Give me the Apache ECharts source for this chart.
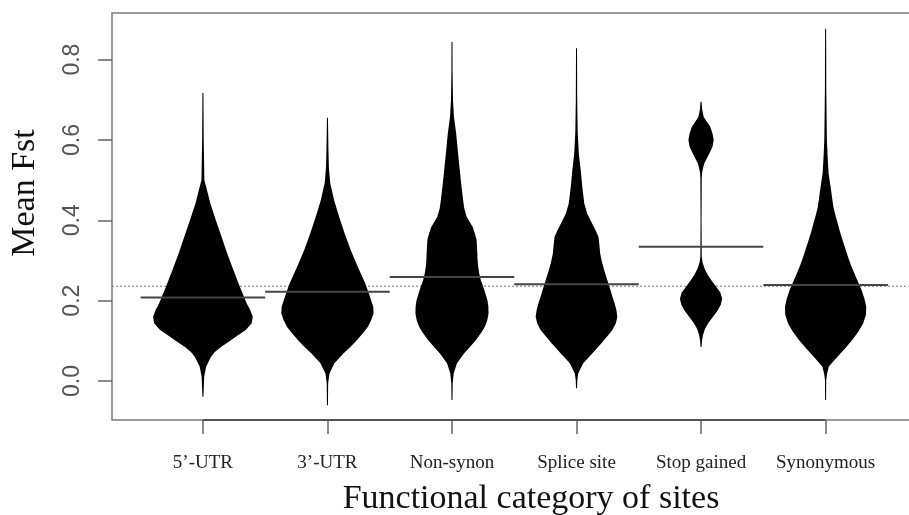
<!DOCTYPE html>
<html><head><meta charset="utf-8">
<script src="https://cdn.jsdelivr.net/npm/echarts@6/dist/echarts.min.js"></script>
<style>html,body{margin:0;padding:0;background:#fff}#c{width:909px;height:515px}</style>
</head><body><div id="c"></div>
<script>
// ---- data ----
const categories = ['5’-UTR', '3’-UTR', 'Non-synon', 'Splice site', 'Stop gained', 'Synonymous'];
const categoryPositions = [1, 2, 3, 4, 5, 6];
const groupMeans = [0.208, 0.222, 0.259, 0.241, 0.334, 0.239];
const overallMean = 0.236;
const yTicks = [0, 0.2, 0.4, 0.6, 0.8];

// density profiles (Fst value, relative density) for each bean
const utr5Fst = [-0.039, 0.011, 0.036, 0.06, 0.072, 0.085, 0.098, 0.110, 0.127, 0.144, 0.16, 0.177, 0.193, 0.235, 0.276, 0.318, 0.359, 0.40, 0.442, 0.483, 0.50, 0.60, 0.717];
const utr5Dens = [0.01, 0.026, 0.066, 0.16, 0.24, 0.36, 0.52, 0.66, 0.86, 0.98, 1.0, 0.95, 0.88, 0.74, 0.614, 0.486, 0.374, 0.26, 0.15, 0.066, 0.03, 0.016, 0.01];

const utr3Fst = [-0.06, -0.006, 0.019, 0.044, 0.069, 0.085, 0.102, 0.119, 0.135, 0.152, 0.168, 0.185, 0.20, 0.222, 0.243, 0.285, 0.326, 0.367, 0.409, 0.45, 0.492, 0.53, 0.575, 0.655];
const utr3Dens = [0.01, 0.014, 0.04, 0.14, 0.326, 0.46, 0.594, 0.71, 0.814, 0.88, 0.926, 0.92, 0.88, 0.82, 0.76, 0.606, 0.466, 0.346, 0.234, 0.134, 0.056, 0.03, 0.02, 0.01];

const nonsynFst = [-0.047, -0.006, 0.019, 0.044, 0.069, 0.085, 0.102, 0.119, 0.135, 0.152, 0.168, 0.185, 0.20, 0.218, 0.235, 0.25, 0.268, 0.284, 0.301, 0.326, 0.351, 0.367, 0.384, 0.397, 0.409, 0.43, 0.45, 0.492, 0.533, 0.575, 0.616, 0.657, 0.699, 0.77, 0.844];
const nonsynDens = [0.01, 0.014, 0.034, 0.1, 0.246, 0.36, 0.48, 0.58, 0.66, 0.71, 0.734, 0.73, 0.714, 0.67, 0.626, 0.58, 0.546, 0.526, 0.514, 0.506, 0.494, 0.46, 0.414, 0.35, 0.294, 0.246, 0.224, 0.184, 0.15, 0.116, 0.084, 0.04, 0.02, 0.012, 0.01];

const spliceFst = [-0.018, 0.002, 0.019, 0.044, 0.069, 0.094, 0.11, 0.127, 0.144, 0.16, 0.177, 0.193, 0.214, 0.235, 0.256, 0.276, 0.297, 0.318, 0.338, 0.359, 0.376, 0.40, 0.417, 0.442, 0.483, 0.525, 0.566, 0.62, 0.70, 0.828];
const spliceDens = [0.01, 0.016, 0.034, 0.134, 0.32, 0.5, 0.61, 0.72, 0.79, 0.82, 0.8, 0.766, 0.71, 0.66, 0.606, 0.556, 0.51, 0.474, 0.46, 0.44, 0.38, 0.28, 0.214, 0.156, 0.116, 0.084, 0.046, 0.024, 0.014, 0.01];

const stopFst = [0.085, 0.10, 0.115, 0.13, 0.145, 0.16, 0.175, 0.19, 0.205, 0.22, 0.235, 0.25, 0.265, 0.28, 0.295, 0.31, 0.40, 0.505, 0.517, 0.53, 0.542, 0.555, 0.566, 0.583, 0.60, 0.616, 0.633, 0.645, 0.657, 0.675, 0.695];
const stopDens = [0.01, 0.02, 0.04, 0.08, 0.15, 0.24, 0.33, 0.396, 0.424, 0.39, 0.3, 0.21, 0.13, 0.07, 0.03, 0.014, 0.01, 0.014, 0.02, 0.04, 0.066, 0.12, 0.166, 0.23, 0.254, 0.23, 0.184, 0.12, 0.054, 0.024, 0.01];

const synFst = [-0.047, 0.002, 0.019, 0.036, 0.06, 0.081, 0.102, 0.123, 0.144, 0.165, 0.185, 0.205, 0.226, 0.247, 0.268, 0.288, 0.309, 0.33, 0.351, 0.371, 0.392, 0.413, 0.434, 0.455, 0.475, 0.517, 0.56, 0.6, 0.724, 0.877];
const synDens = [0.01, 0.012, 0.03, 0.066, 0.234, 0.39, 0.534, 0.66, 0.756, 0.81, 0.816, 0.78, 0.724, 0.65, 0.576, 0.51, 0.45, 0.396, 0.34, 0.29, 0.244, 0.196, 0.156, 0.132, 0.11, 0.06, 0.04, 0.026, 0.014, 0.01];

const profiles = [
  [utr5Fst, utr5Dens], [utr3Fst, utr3Dens], [nonsynFst, nonsynDens],
  [spliceFst, spliceDens], [stopFst, stopDens], [synFst, synDens]
];

// ---- chart ----
const X_MIN = 0.27, X_MAX = 6.75, Y_MIN = -0.097, Y_MAX = 0.916;
const MAX_HALF = 0.4; // half-width of widest bean, in category units

const chart = echarts.init(document.getElementById('c'), null, {renderer: 'canvas'});

const option = {
  animation: false,
  backgroundColor: '#fff',
  grid: {left: 112, top: 13, width: 807, height: 407, show: true, borderColor: '#7a7a7a', borderWidth: 1.5, backgroundColor: 'transparent', outerBoundsMode: 'none'},
  xAxis: {
    type: 'value', min: X_MIN, max: X_MAX,
    axisLine: {show: false, onZero: false}, splitLine: {show: false},
    axisTick: {show: true, customValues: categoryPositions, length: 14, lineStyle: {color: '#666', width: 1.5}},
    axisLabel: {customValues: categoryPositions, formatter: v => categories[Math.round(v) - 1],
      fontFamily: 'Liberation Serif', fontSize: 19, color: '#222', margin: 34}
  },
  yAxis: {
    type: 'value', min: Y_MIN, max: Y_MAX,
    axisLine: {show: false, onZero: false}, splitLine: {show: false},
    axisTick: {show: true, customValues: yTicks, length: 14, lineStyle: {color: '#666', width: 1.5}},
    axisLabel: {customValues: yTicks, rotate: 90, formatter: v => v.toFixed(1),
      fontFamily: 'Liberation Sans', fontSize: 23, color: '#555', margin: 28}
  },
  graphic: [
    {type: 'text', x: 25, y: 193, rotation: Math.PI / 2,
      style: {text: 'Mean Fst', font: '34px "Liberation Serif"', fill: '#111', textAlign: 'center', textVerticalAlign: 'middle'}},
    {type: 'text', x: 531, y: 499,
      style: {text: 'Functional category of sites', font: '34px "Liberation Serif"', fill: '#111', textAlign: 'center', textVerticalAlign: 'middle'}}
  ],
  series: [
    {
      type: 'line', data: [[X_MIN, overallMean], [X_MAX, overallMean]],
      symbol: 'none', lineStyle: {color: '#777', width: 1, type: [2, 2]}, silent: true, z: 1
    },
    {
      type: 'custom',
      data: categoryPositions.map((p, i) => [p, groupMeans[i]]),
      renderItem: (params, api) => {
        const i = params.dataIndex;
        const pos = categoryPositions[i];
        const fst = profiles[i][0], dens = profiles[i][1];
        const right = [], left = [];
        for (let k = 0; k < fst.length; k++) right.push(api.coord([pos + dens[k] * MAX_HALF, fst[k]]));
        for (let k = fst.length - 1; k >= 0; k--) left.push(api.coord([pos - dens[k] * MAX_HALF, fst[k]]));
        return {type: 'polygon', shape: {points: right.concat(left)}, style: {fill: '#000'}};
      },
      silent: true, z: 2
    },
    {
      type: 'custom',
      data: categoryPositions.map((p, i) => [p, groupMeans[i]]),
      renderItem: (params, api) => {
        const p = api.value(0), m = api.value(1);
        const a = api.coord([p - 0.5, m]), b = api.coord([p + 0.5, m]);
        return {type: 'line', shape: {x1: a[0], y1: a[1], x2: b[0], y2: b[1]}, style: {stroke: '#444', lineWidth: 2}};
      },
      silent: true, z: 3
    },
    {
      type: 'line', data: [[categoryPositions[0], Y_MIN], [categoryPositions[categoryPositions.length - 1], Y_MIN]],
      symbol: 'none', lineStyle: {color: '#555', width: 1.8}, silent: true, clip: false, z: 4
    }
  ]
};
chart.setOption(option);
</script>
</body></html>
